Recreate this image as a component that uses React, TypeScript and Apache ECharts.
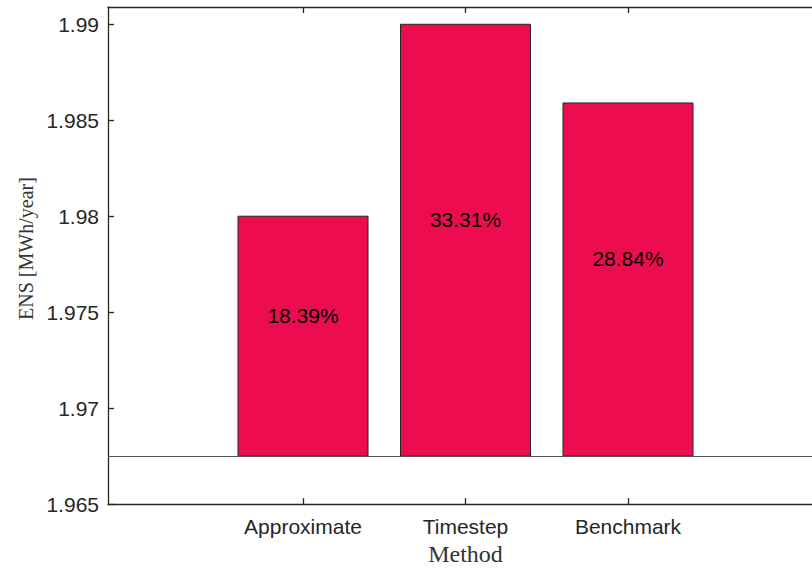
import React, { useEffect, useRef } from "react";
import * as echarts from "echarts";

const CATEGORIES = ["Approximate", "Timestep", "Benchmark"];
const POSITIONS = [1, 2, 3];
const ENS_VALUES = [1.98, 1.99, 1.9859];
const PERCENT_LABELS = ["18.39%", "33.31%", "28.84%"];
const Y_TICKS = [1.965, 1.97, 1.975, 1.98, 1.985, 1.99];
const BAR_BASE = 1.9675;
const X_MIN = -0.2;
const X_MAX = 4.2;
const Y_MIN = 1.965;
const Y_MAX = 1.9909;

const AXIS_COLOR = "#262626";
const BAR_COLOR = "#EC0C4F";

export default function App() {
  const ref = useRef<HTMLDivElement>(null);

  useEffect(() => {
    if (!ref.current) return;
    const chart = echarts.init(ref.current, undefined, { renderer: "svg" });

    const data = POSITIONS.map((x, i) => [x, ENS_VALUES[i], i]);

    const option: any = {
      animation: false,
      backgroundColor: "#ffffff",
      grid: { left: 108, top: 7, width: 715, height: 501 },
      xAxis: [
        {
          type: "value",
          position: "bottom",
          min: X_MIN,
          max: X_MAX,
          axisLine: { show: true, onZero: false, lineStyle: { color: AXIS_COLOR, width: 1.3 } },
          axisTick: { show: true, inside: true, length: 6, customValues: POSITIONS, lineStyle: { color: AXIS_COLOR, width: 1.3 } },
          axisLabel: {
            show: true,
            customValues: POSITIONS,
            formatter: (v: number) => {
              const idx = POSITIONS.indexOf(Math.round(v));
              return idx >= 0 ? CATEGORIES[idx] : "";
            },
            fontFamily: "Liberation Sans, Arial, sans-serif",
            fontSize: 21,
            color: AXIS_COLOR,
            margin: 12,
          },
          splitLine: { show: false },
          name: "Method",
          nameLocation: "middle",
          nameGap: 35,
          nameTextStyle: { fontFamily: "Liberation Serif, Times New Roman, serif", fontSize: 24, color: "#333333" },
        },
        {
          type: "value",
          position: "top",
          min: X_MIN,
          max: X_MAX,
          axisLine: { show: true, onZero: false, lineStyle: { color: AXIS_COLOR, width: 1.3 } },
          axisTick: { show: true, inside: true, length: 6, customValues: POSITIONS, lineStyle: { color: AXIS_COLOR, width: 1.3 } },
          axisLabel: { show: false },
          splitLine: { show: false },
        },
      ],
      yAxis: {
        type: "value",
        min: Y_MIN,
        max: Y_MAX,
        axisLine: { show: true, onZero: false, lineStyle: { color: AXIS_COLOR, width: 1.3 } },
        axisTick: { show: true, inside: true, length: 6, customValues: Y_TICKS, lineStyle: { color: AXIS_COLOR, width: 1.3 } },
        axisLabel: {
          customValues: Y_TICKS,
          formatter: (v: number) => String(Number(v.toFixed(4))),
          fontFamily: "Liberation Sans, Arial, sans-serif",
          fontSize: 21,
          color: AXIS_COLOR,
          margin: 9,
        },
        splitLine: { show: false },
        name: "ENS [MWh/year]",
        nameLocation: "middle",
        nameGap: 71,
        nameTextStyle: {
          fontFamily: "Liberation Serif, Times New Roman, serif",
          fontSize: 20,
          color: "#333333",
          padding: [0, 0, 0, 14],
        },
      },
      series: [
        {
          type: "custom",
          xAxisIndex: 0,
          yAxisIndex: 0,
          data,
          renderItem: (params: any, api: any) => {
            const x = api.value(0);
            const y = api.value(1);
            const idx = api.value(2);
            const p0 = api.coord([x - 0.4, BAR_BASE]);
            const p1 = api.coord([x + 0.4, y]);
            const cx = (p0[0] + p1[0]) / 2;
            const cy = (p0[1] + p1[1]) / 2 - 21;
            return {
              type: "group",
              children: [
                {
                  type: "rect",
                  shape: { x: p0[0], y: p1[1], width: p1[0] - p0[0], height: p0[1] - p1[1] },
                  style: { fill: BAR_COLOR, stroke: AXIS_COLOR, lineWidth: 1 },
                },
                {
                  type: "text",
                  x: cx,
                  y: cy,
                  style: {
                    text: PERCENT_LABELS[idx],
                    fill: "#000000",
                    fontFamily: "Liberation Sans, Arial, sans-serif",
                    fontSize: 21,
                    align: "center",
                    verticalAlign: "middle",
                  },
                },
              ],
            };
          },
          markLine: {
            silent: true,
            symbol: "none",
            precision: 5,
            label: { show: false },
            lineStyle: { color: "#555555", width: 1, type: "solid" },
            data: [{ yAxis: BAR_BASE }],
          },
        },
      ],
    };

    chart.setOption(option);
    return () => chart.dispose();
  }, []);

  return (
    <div
      ref={ref}
      style={{ position: "fixed", left: 0, top: 0, width: 830, height: 571 }}
    />
  );
}
